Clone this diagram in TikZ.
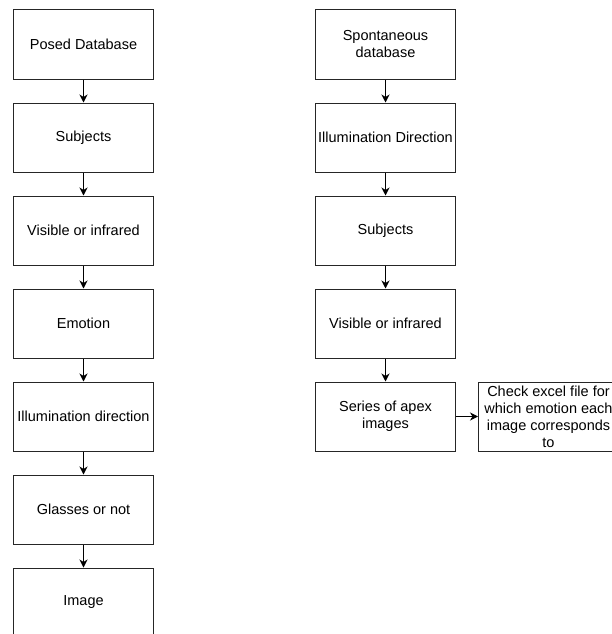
\documentclass[tikz,border=0pt]{standalone}
\usepackage{fontspec}
\setmainfont{Liberation Sans}
\usetikzlibrary{arrows.meta}
\begin{document}
\begin{tikzpicture}[x=1pt,y=-1pt,
  stepbox/.style={draw=black!85, line width=1pt, minimum width=140pt, minimum height=69pt,
    inner sep=0pt, align=center, font=\fontsize{14.5}{17}\selectfont},
  flow/.style={draw=black, line width=1pt, -{Stealth[length=8pt,width=8pt,inset=2.5pt]}}]
\useasboundingbox (0,0) rectangle (612,634);
\clip (0,0) rectangle (612,634);
\fill[white] (0,0) rectangle (612,634);
% posed database column
\node[stepbox] (p1) at (83.5,44.5) {Posed Database};
\node[stepbox] (p2) at (83.5,137.5) {Subjects};
\node[stepbox] (p3) at (83.5,230.5) {Visible or infrared};
\node[stepbox] (p4) at (83.5,323.5) {Emotion};
\node[stepbox] (p5) at (83.5,416.5) {Illumination direction};
\node[stepbox] (p6) at (83.5,509.5) {Glasses or not};
\node[stepbox] (p7) at (83.5,602.5) {Image};
% spontaneous database column
\node[stepbox] (s1) at (385.5,44.5) {Spontaneous\\database};
\node[stepbox] (s2) at (385.5,137.5) {Illumination Direction};
\node[stepbox] (s3) at (385.5,230.5) {Subjects};
\node[stepbox] (s4) at (385.5,323.5) {Visible or infrared};
\node[stepbox] (s5) at (385.5,416.5) {Series of apex\\images};
\node[stepbox] (s6) at (548.5,416.5) {Check excel file for\\which emotion each\\image corresponds\\to};
% connectors
\foreach \a/\b in {p1/p2,p2/p3,p3/p4,p4/p5,p5/p6,p6/p7,s1/s2,s2/s3,s3/s4,s4/s5}
  \draw[flow] (\a.south) -- (\b.north);
\draw[flow] (s5.east) -- (s6.west);
\end{tikzpicture}
\end{document}
